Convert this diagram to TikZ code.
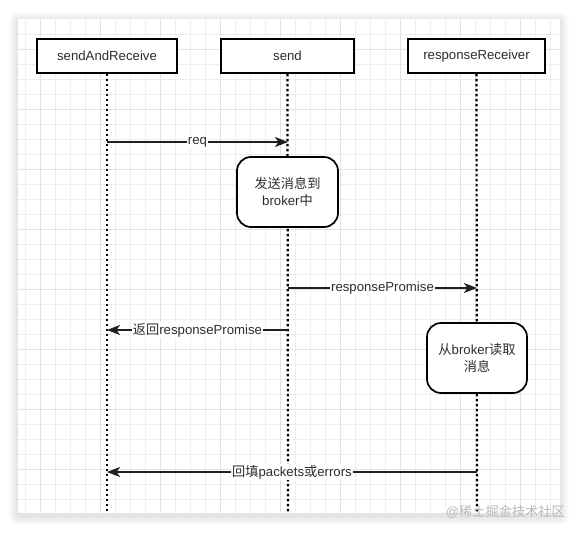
\documentclass[tikz,border=0pt]{standalone}
\usepackage{fontspec}
\setmainfont{Liberation Sans}
\newfontfamily\cjk{Noto Sans CJK SC}
\newcommand{\zh}[1]{{\cjk #1}}
\usetikzlibrary{positioning, arrows.meta, backgrounds, calc}
\definecolor{ctexto}{RGB}{45,45,45}
\definecolor{crejilla}{RGB}{238,238,238}
\definecolor{crejillab}{RGB}{226,226,226}
\definecolor{cmarca}{RGB}{185,185,185}

\begin{document}
\begin{tikzpicture}[x=1pt, y=-1pt, font=\fontsize{13.2}{17}\selectfont,
    >={Stealth[length=13pt, width=10pt, inset=3.5pt]},
    actor/.style={draw=black, line width=1.7pt, fill=white, minimum width=#1, minimum height=34pt, inner sep=0pt, text=ctexto},
    actor/.default=137pt,
    proc/.style={draw=black, line width=1.7pt, fill=white, rounded corners=14pt, minimum width=101pt, minimum height=70pt, align=center, text=ctexto},
    vida/.style={line width=2.2pt, dash pattern=on 2.4pt off 2.6pt},
    msg/.style={->, line width=1.7pt, draw=black!88},
    etq/.style={fill=white, inner sep=1pt, text=ctexto},
    rejilla/.style={draw=crejilla, line width=0.6pt},
    rejillab/.style={draw=crejillab, line width=0.7pt}]

  \useasboundingbox (0,0) rectangle (579,533);

  % hoja con sombra
  \foreach \d in {1,...,9}
    \fill[black, opacity=0.012, rounded corners=\d pt] ($(18,21)+(-\d,-\d)$) rectangle ($(560,516)+(\d,\d)$);
  \fill[white] (18,19) rectangle (560,513);
  \foreach \x in {25,40,...,555} \draw[rejilla] (\x,19) -- (\x,513);
  \foreach \y in {34,49,...,508} \draw[rejilla] (18,\y) -- (560,\y);
  \foreach \x in {40,100,...,520} \draw[rejillab] (\x,19) -- (\x,513);
  \foreach \y in {49,109,...,469} \draw[rejillab] (18,\y) -- (560,\y);

  % participantes
  \node[actor=140pt] (sar) at (107,56) {sendAndReceive};
  \node[actor=133pt] (send) at (287.5,56) {send};
  \node[actor] (rr) at (476.5,56) {responseReceiver};

  % fin de las lineas de vida
  \coordinate (sarfin) at (107,513);
  \coordinate (sendfin) at (288,513);
  \coordinate (rrfin) at (477,513);

  \draw[vida] (sar.south) -- (sarfin);
  \draw[vida] (send.south) -- (sendfin);
  \draw[vida] (rr.south) -- (rrfin);

  % actividades
  \node[proc] (envio) at (287.5,192) {\zh{发送消息到}\\broker\zh{中}};
  \node[proc, minimum width=100pt] (lectura) at (477,358) {\zh{从}broker\zh{读取}\\\zh{消息}};

  % puntos de los mensajes
  \coordinate (req0) at (107,142);
  \coordinate (req1) at (288,142);
  \coordinate (rp0) at (288,288);
  \coordinate (rp1) at (477,288);
  \coordinate (ret0) at (288,330);
  \coordinate (ret1) at (107,330);
  \coordinate (back0) at (477,472);
  \coordinate (back1) at (107,472);

  % mensajes
  \draw[msg] (req0) -- node[etq]{req} (req1);
  \draw[msg] (rp0) -- node[etq]{responsePromise} (rp1);
  \draw[msg] (ret0) -- node[etq]{\zh{返回}responsePromise} (ret1);
  \draw[msg] (back0) -- node[etq]{\zh{回填}packets\zh{或}errors} (back1);

  \node[text=cmarca, anchor=east, inner sep=0pt] (marca) at (565,512) {@\zh{稀土掘金技术社区}};
\end{tikzpicture}
\end{document}
